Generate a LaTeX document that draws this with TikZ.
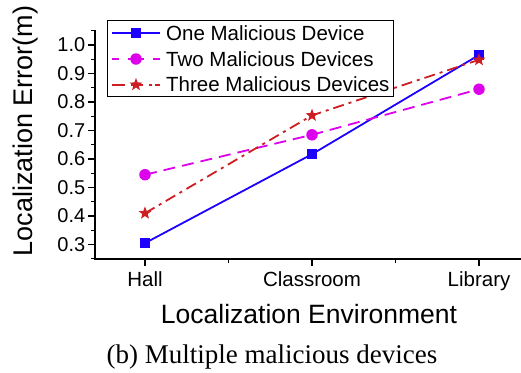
\documentclass[tikz,border=0pt]{standalone}
\usepackage{fontspec}
\setmainfont{Liberation Sans}
\newfontfamily\capfont{Liberation Serif}
\usetikzlibrary{shapes.geometric}
\definecolor{cone}{RGB}{30,0,255}
\definecolor{ctwo}{RGB}{220,0,235}
\definecolor{cthree}{RGB}{205,30,35}
\begin{document}
\begin{tikzpicture}[x=1pt,y=-1pt,
  oneline/.style={cone,line width=1.8pt},
  twoline/.style={ctwo,line width=1.8pt,dash pattern=on 12pt off 7pt},
  threeline/.style={cthree,line width=1.8pt,dash pattern=on 11pt off 5pt on 3pt off 5pt},
  onemk/.style={rectangle,fill=cone,minimum size=10pt,inner sep=0pt},
  twomk/.style={circle,fill=ctwo,minimum size=11.5pt,inner sep=0pt},
  threemk/.style={star,star points=5,star point ratio=2.4,fill=cthree,minimum size=13.5pt,inner sep=0pt},
  axisline/.style={black,line width=1.1pt},
  ticklab/.style={font=\fontsize{20}{24}\selectfont,inner sep=0pt},
  leglab/.style={font=\fontsize{20.5}{24}\selectfont,inner sep=0pt,anchor=base west},
]
\useasboundingbox (0,0) rectangle (521,372);
% axes
\draw[axisline] (95,30) -- (95,259) -- (521,259);
% y ticks
\foreach \v/\lab in {0.3/0.3,0.4/0.4,0.5/0.5,0.6/0.6,0.7/0.7,0.8/0.8,0.9/0.9,1.0/1.0}{
  \pgfmathsetmacro\yy{45+(1.0-\v)*285}
  \draw[axisline] (88,\yy) -- (95,\yy);
  \node[ticklab,anchor=east] (yl\lab) at (85.5,\yy) {\lab};
}
\foreach \v in {0.25,0.35,0.45,0.55,0.65,0.75,0.85,0.95,1.05}{
  \pgfmathsetmacro\yy{45+(1.0-\v)*285}
  \draw[axisline] (91,\yy) -- (95,\yy);
}
% x ticks
\foreach \x in {145,312,479}{\draw[axisline] (\x,259) -- (\x,266);}
\foreach \x in {228.5,395.5}{\draw[axisline] (\x,259) -- (\x,263);}
\node[ticklab,anchor=base,font=\fontsize{20.5}{24}\selectfont] (xh) at (145,286) {Hall};
\node[ticklab,anchor=base,font=\fontsize{20.5}{24}\selectfont] (xc) at (312,286) {Classroom};
\node[ticklab,anchor=base,font=\fontsize{20.5}{24}\selectfont] (xl) at (479,286) {Library};
% axis titles
\node[rotate=90,inner sep=0pt,font=\fontsize{27}{30}\selectfont] (ytitle) at (26,131) {Localization Error(m)};
\node[inner sep=0pt,anchor=base,font=\fontsize{26.5}{30}\selectfont] (xtitle) at (309,323) {Localization Environment};
\node[inner sep=0pt,anchor=base,font=\capfont\fontsize{27}{30}\selectfont] (cap) at (272,363) {(b) Multiple malicious devices};
% data coordinates
\coordinate (a1) at (145,243.1);
\coordinate (a2) at (312,154.2);
\coordinate (a3) at (479,55);
\coordinate (b1) at (145,174.7);
\coordinate (b2) at (312,134.8);
\coordinate (b3) at (479,89.2);
\coordinate (c1) at (145,213.2);
\coordinate (c2) at (312,115.4);
\coordinate (c3) at (479,59.8);
\draw[oneline] (a1) -- (a2) -- (a3);
\draw[twoline] (b1) -- (b2) -- (b3);
\draw[threeline] (c1) -- (c2) -- (c3);
\foreach \p in {a1,a2,a3}{\node[onemk] at (\p) {};}
\foreach \p in {b1,b2,b3}{\node[twomk] at (\p) {};}
\foreach \p in {c1,c2,c3}{\node[threemk] at (\p) {};}
% legend
\draw[black,line width=0.9pt,fill=white] (107,20) rectangle (393,96);
\coordinate (la0) at (112,33); \coordinate (la1) at (160,33);
\coordinate (lb0) at (112,59); \coordinate (lb1) at (160,59);
\coordinate (lc0) at (112,84.7); \coordinate (lc1) at (160,84.7);
\draw[oneline] (la0) -- (la1);
\draw[twoline,dash pattern=on 7pt off 9pt on 16pt off 9pt on 7pt off 0pt] (lb0) -- (lb1);
\draw[threeline,dash pattern=on 13pt off 6pt on 12pt off 6pt on 3pt off 3pt] (lc0) -- (lc1);
\node[onemk] (lma) at (136,33) {};
\node[twomk] (lmb) at (136,59) {};
\node[threemk] (lmc) at (136,84.7) {};
\node[leglab] (lta) at (166,40.7) {One Malicious Device};
\node[leglab] (ltb) at (166,66) {Two Malicious Devices};
\node[leglab] (ltc) at (166,91.7) {Three Malicious Devices};
\end{tikzpicture}
\end{document}
